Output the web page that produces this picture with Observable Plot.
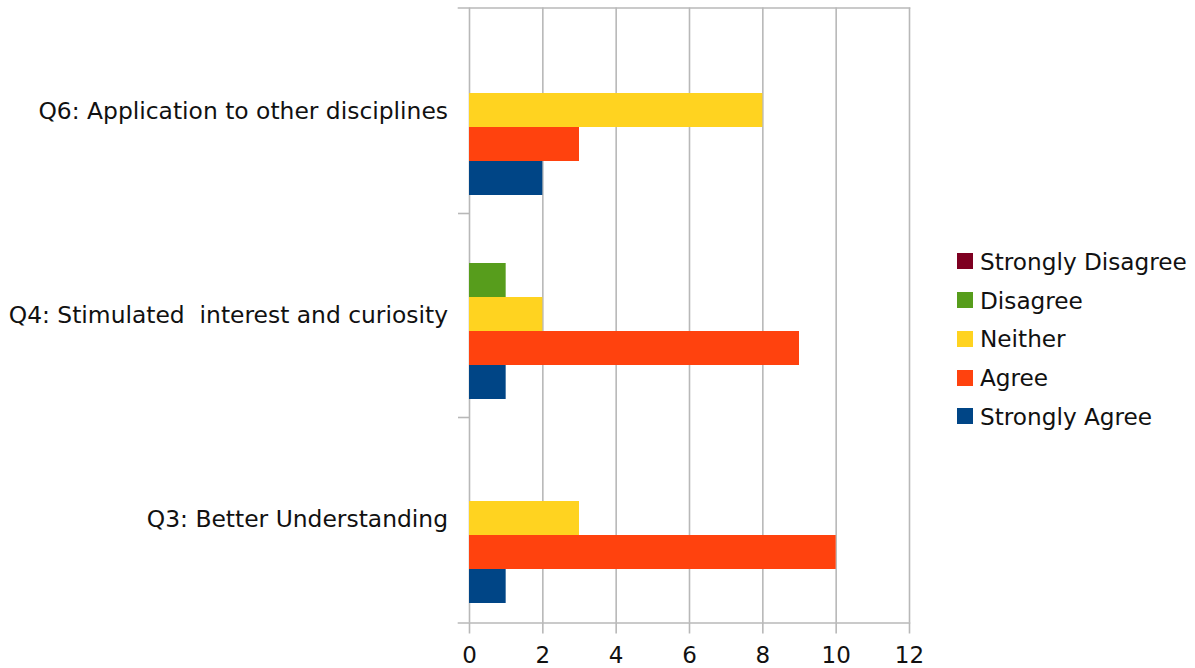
<!DOCTYPE html>
<html><head><meta charset="utf-8">
<script src="https://cdn.jsdelivr.net/npm/d3@7"></script>
<script src="https://cdn.jsdelivr.net/npm/@observablehq/plot@0.6"></script>
<style>
body{margin:0;background:#fff;}
#wrap{position:relative;width:1195px;height:668px;font-family:"DejaVu Sans",sans-serif;}
#chart{position:absolute;left:0;top:0;}
#chart svg text{white-space:pre;}
#legend{position:absolute;left:957px;top:242px;}
.item{display:flex;align-items:center;height:38.75px;font-size:23.2px;color:#111;white-space:pre;}
.sw{width:16px;height:16px;margin-right:7px;flex:none;}
</style></head><body>
<div id="wrap"><div id="chart"></div><div id="legend"></div></div>
<script>
const questions = ["Q6: Application to other disciplines", "Q4: Stimulated  interest and curiosity", "Q3: Better Understanding"];
const responses = ["Strongly Disagree", "Disagree", "Neither", "Agree", "Strongly Agree"];
const stronglyDisagree = [0, 0, 0];
const disagree = [0, 1, 0];
const neither = [8, 2, 3];
const agree = [3, 9, 10];
const stronglyAgree = [2, 1, 1];
const colors = ["#7e0021", "#579d1c", "#ffd320", "#ff420e", "#004586"];
const xTicks = [0, 2, 4, 6, 8, 10, 12];

const series = [stronglyDisagree, disagree, neither, agree, stronglyAgree];
const data = [];
questions.forEach((q, i) => responses.forEach((r, j) =>
  data.push({question: q, response: r, key: q + "|" + r, value: series[j][i]})));
const domain = [];
questions.forEach((q, i) => {
  if (i > 0) domain.push("gap" + i);
  responses.forEach(r => domain.push(q + "|" + r));
});
const gridColor = "#b8b8b8";
const textColor = "#111";

const plot = Plot.plot({
  width: 1195, height: 668,
  marginLeft: 469, marginRight: 286, marginTop: 7.5, marginBottom: 45.5,
  style: {fontFamily: '"DejaVu Sans", sans-serif', fontSize: "23px", color: textColor, background: "transparent"},
  x: {domain: [0, 12], label: null},
  y: {domain, type: "band", paddingInner: 0, paddingOuter: 0.5, label: null},
  color: {domain: responses, range: colors},
  marks: [
    Plot.gridX(xTicks, {stroke: gridColor, strokeOpacity: 1, strokeWidth: 1.6}),
    Plot.barX(data, {x: "value", y: "key", fill: "response", dy: -1}),
    Plot.frame({anchor: "top", stroke: gridColor, strokeWidth: 1.6, insetLeft: -11}),
    Plot.frame({anchor: "bottom", stroke: gridColor, strokeWidth: 1.6, insetLeft: -11}),
    Plot.axisY(["gap1", "gap2"], {tickSize: 11, tickFormat: () => "", stroke: gridColor, strokeWidth: 1.6}),
    Plot.axisY(questions.map(q => q + "|Neither"), {tickSize: 0, tickPadding: 21.5, tickFormat: d => d.split("|")[0], fontSize: 23.4, fill: textColor}),
    Plot.axisX(xTicks, {tickSize: 11, tickPadding: 13, stroke: gridColor, strokeWidth: 1.6, fontSize: 23, fill: textColor})
  ]
});
document.getElementById("chart").appendChild(plot);

const legend = document.getElementById("legend");
responses.forEach((r, j) => {
  const item = document.createElement("div");
  item.className = "item";
  const sw = document.createElement("div");
  sw.className = "sw";
  sw.style.background = colors[j];
  const t = document.createElement("span");
  t.textContent = r;
  item.appendChild(sw);
  item.appendChild(t);
  legend.appendChild(item);
});
</script>
</body></html>
